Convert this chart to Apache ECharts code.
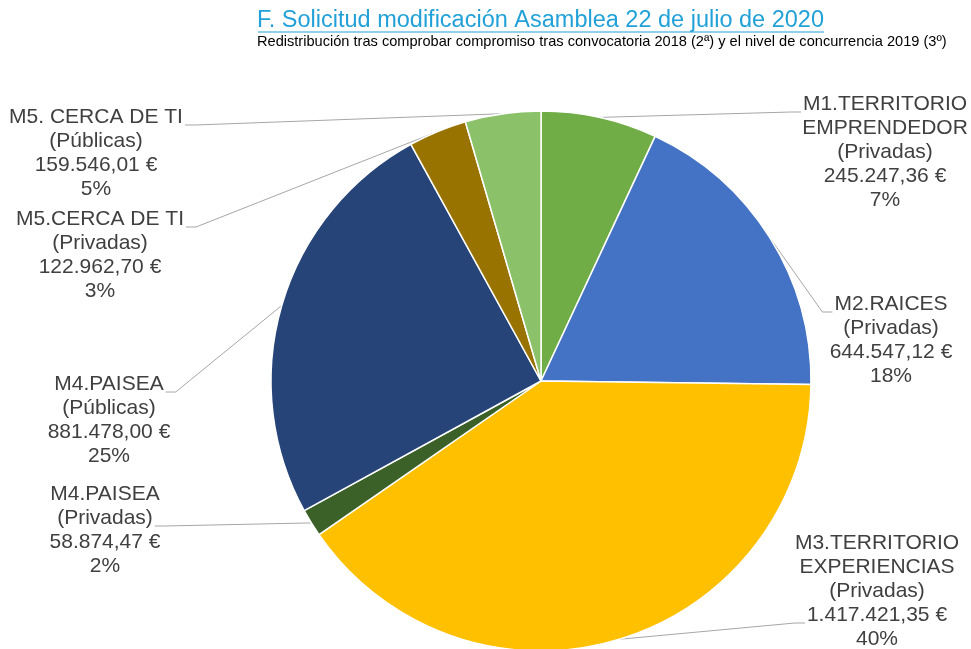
<!DOCTYPE html>
<html>
<head>
<meta charset="utf-8">
<script src="https://cdn.jsdelivr.net/npm/echarts@6/dist/echarts.min.js"></script>
<style>
  html, body { margin: 0; padding: 0; background: #ffffff; }
  #chart { width: 971px; height: 649px; }
</style>
</head>
<body>
<div id="chart"></div>
<script>
// Measures, funding type and amounts (euros), in clockwise order from the top
const measures = [
  'M1.TERRITORIO\nEMPRENDEDOR',
  'M2.RAICES',
  'M3.TERRITORIO\nEXPERIENCIAS',
  'M4.PAISEA',
  'M4.PAISEA',
  'M5.CERCA DE TI',
  'M5. CERCA DE TI'
];
const fundingTypes = ['(Privadas)', '(Privadas)', '(Privadas)', '(Privadas)', '(Públicas)', '(Privadas)', '(Públicas)'];
const amounts = [245247.36, 644547.12, 1417421.35, 58874.47, 881478.00, 122962.70, 159546.01];
const sliceColors = ['#70ad47', '#4472c4', '#ffc000', '#3b6128', '#264478', '#997300', '#8bc168'];

// Label block placement: centre x, centre y, which text line the leader joins, side it joins on
const labelSpots = [
  [885, 152, 0, 'left'],
  [891, 340, 0, 'left'],
  [877, 591, 3, 'left'],
  [105, 530, 1, 'right'],
  [109, 420, 0, 'right'],
  [100, 255, 0, 'right'],
  [96, 153, 0, 'right']
];

const LABEL_FONT_SIZE = 21;
const LABEL_LINE_HEIGHT = 24;
const LABEL_FONT = LABEL_FONT_SIZE + 'px "Liberation Sans", Arial, sans-serif';

function euro(v) {
  const parts = v.toFixed(2).split('.');
  const intPart = parts[0].replace(/\B(?=(\d{3})+(?!\d))/g, '.');
  return intPart + ',' + parts[1] + ' €';
}

const measureCtx = document.createElement('canvas').getContext('2d');
measureCtx.font = LABEL_FONT;
function textWidth(s) { return measureCtx.measureText(s).width; }

const pctCache = {};
function labelLines(i, pct) {
  return (measures[i] + '\n' + fundingTypes[i] + '\n' + euro(amounts[i]) + '\n' + pct + '%').split('\n');
}

const chart = echarts.init(document.getElementById('chart'), null, { renderer: 'canvas' });

const pieData = amounts.map((v, i) => ({
  name: measures[i] + ' ' + fundingTypes[i],
  value: v,
  itemStyle: { color: sliceColors[i] }
}));

chart.setOption({
  animation: false,
  title: {
    text: 'F. Solicitud modificación Asamblea 22 de julio de 2020',
    subtext: 'Redistribución tras comprobar compromiso tras convocatoria 2018 (2ª) y el nivel de concurrencia 2019 (3º)',
    left: 257,
    top: 9,
    padding: 0,
    itemGap: 1,
    textStyle: {
      fontFamily: 'Liberation Sans, Arial, sans-serif',
      fontSize: 23.5,
      fontWeight: 'normal',
      color: '#22a1d8'
    },
    subtextStyle: {
      fontFamily: 'Liberation Sans, Arial, sans-serif',
      fontSize: 14.6,
      color: '#000000'
    }
  },
  graphic: [{
    type: 'line',
    shape: { x1: 258, y1: 32, x2: 824, y2: 32 },
    style: { stroke: '#22a1d8', lineWidth: 1.2 }
  }],
  series: [{
    type: 'pie',
    center: [541, 381],
    radius: [0, 270],
    startAngle: 90,
    clockwise: true,
    percentPrecision: 0,
    itemStyle: { borderColor: '#ffffff', borderWidth: 1.5 },
    label: {
      show: true,
      position: 'outside',
      fontFamily: 'Liberation Sans, Arial, sans-serif',
      fontSize: LABEL_FONT_SIZE,
      lineHeight: LABEL_LINE_HEIGHT,
      color: '#404040',
      align: 'center',
      formatter: function (p) {
        pctCache[p.dataIndex] = p.percent;
        return labelLines(p.dataIndex, p.percent).join('\n');
      }
    },
    labelLine: {
      show: true,
      length: 10,
      length2: 10,
      lineStyle: { color: '#a6a6a6', width: 1 }
    },
    labelLayout: function (params) {
      const i = params.dataIndex;
      const s = labelSpots[i];
      const lines = labelLines(i, pctCache[i]);
      const blockTop = s[1] - lines.length * LABEL_LINE_HEIGHT / 2;
      const joinY = blockTop + (s[2] + 1) * LABEL_LINE_HEIGHT - 4;
      const halfW = textWidth(lines[s[2]]) / 2;
      const joinX = s[3] === 'left' ? s[0] - halfW - 2 : s[0] + halfW + 2;
      const bendX = s[3] === 'left' ? joinX - 10 : joinX + 10;
      const start = params.labelLinePoints ? params.labelLinePoints[0] : null;
      const out = {
        x: s[0],
        y: s[1],
        align: 'center',
        verticalAlign: 'middle'
      };
      if (start) {
        out.labelLinePoints = [start, [bendX, joinY], [joinX, joinY]];
      }
      return out;
    },
    data: pieData
  }]
});
</script>
</body>
</html>
